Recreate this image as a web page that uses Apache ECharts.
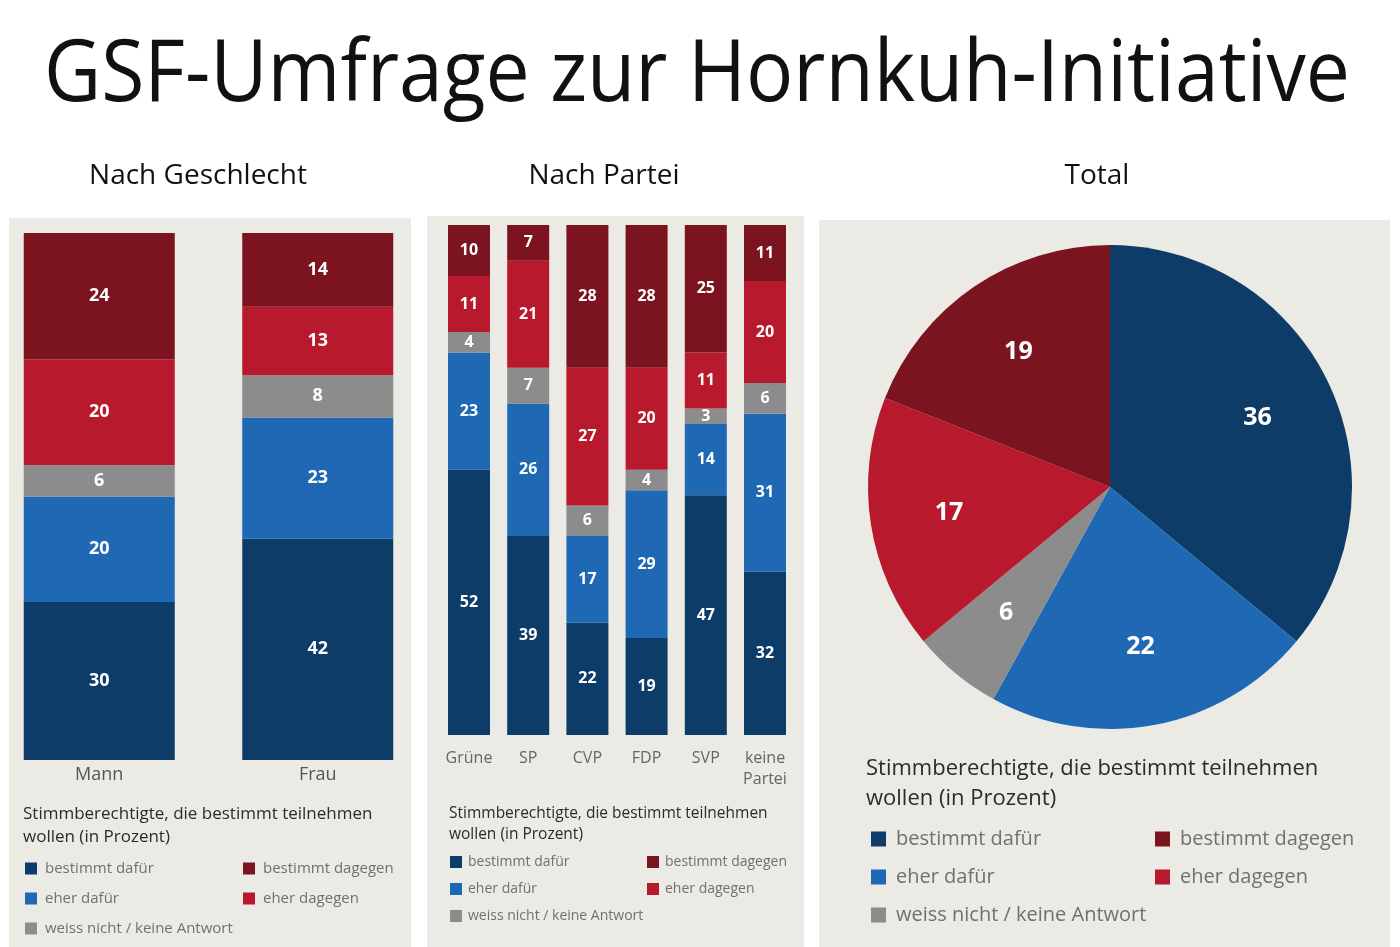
<!DOCTYPE html>
<html>
<head>
<meta charset="utf-8">
<script src="https://cdn.jsdelivr.net/npm/echarts@6/dist/echarts.min.js"></script>
<style>
html, body { margin: 0; padding: 0; background: #fff; }
#chart { width: 1400px; height: 947px; }
</style>
</head>
<body>
<div id="chart"></div>
<script>
// Kategorien
var genderCategories = ['Mann', 'Frau'];
var partyCategories = ['Grüne', 'SP', 'CVP', 'FDP', 'SVP', 'keine\nPartei'];
var answerNames = ['bestimmt dafür', 'eher dafür', 'weiss nicht / keine Antwort', 'eher dagegen', 'bestimmt dagegen'];

// Nach Geschlecht
var genderBestimmtDafuer = [30, 42];
var genderEherDafuer = [20, 23];
var genderWeissNicht = [6, 8];
var genderEherDagegen = [20, 13];
var genderBestimmtDagegen = [24, 14];

// Nach Partei
var partyBestimmtDafuer = [52, 39, 22, 19, 47, 32];
var partyEherDafuer = [23, 26, 17, 29, 14, 31];
var partyWeissNicht = [4, 7, 6, 4, 3, 6];
var partyEherDagegen = [11, 21, 27, 20, 11, 20];
var partyBestimmtDagegen = [10, 7, 28, 28, 25, 11];

// Total
var totalValues = [36, 22, 6, 17, 19];

var colors = ['#0d3c68', '#1f69b4', '#8c8c8c', '#b8192c', '#7b141f'];
var panelBg = '#ebeae5';
var fontMain = '"Open Sans", "Noto Sans", sans-serif';

var genderData = [genderBestimmtDafuer, genderEherDafuer, genderWeissNicht, genderEherDagegen, genderBestimmtDagegen];
var partyData = [partyBestimmtDafuer, partyEherDafuer, partyWeissNicht, partyEherDagegen, partyBestimmtDagegen];

var series = [];
answerNames.forEach(function (name, i) {
    series.push({
        name: name,
        type: 'bar',
        stack: 'gender',
        xAxisIndex: 0,
        yAxisIndex: 0,
        barWidth: 151,
        itemStyle: { color: colors[i] },
        label: { show: true, color: '#fff', fontWeight: 'bold', fontSize: 18, fontFamily: fontMain },
        data: genderData[i]
    });
});
answerNames.forEach(function (name, i) {
    series.push({
        name: name,
        type: 'bar',
        stack: 'party',
        xAxisIndex: 1,
        yAxisIndex: 1,
        barWidth: 42,
        itemStyle: { color: colors[i] },
        label: { show: true, color: '#fff', fontWeight: 'bold', fontSize: 16, fontFamily: fontMain },
        data: partyData[i]
    });
});

var pieData = answerNames.map(function (name, i) {
    return { name: name, value: totalValues[i], itemStyle: { color: colors[i] } };
});
series.push({
    type: 'pie',
    center: [1110, 487],
    radius: [0, 242],
    startAngle: 90,
    label: { show: false },
    labelLine: { show: false },
    data: pieData
});
// nur Beschriftung, etwas weiter aussen
series.push({
    type: 'pie',
    center: [1110, 487],
    radius: [80, 240],
    startAngle: 90,
    silent: true,
    itemStyle: { color: 'rgba(0,0,0,0)' },
    label: {
        show: true, position: 'inside', color: '#fff', fontWeight: 'bold', fontSize: 25, fontFamily: fontMain,
        formatter: '{c}'
    },
    labelLine: { show: false },
    data: answerNames.map(function (name, i) { return { name: name, value: totalValues[i] }; })
});

function legendPair(x1, x2, y, gap, fontSize, iconSize, textGap) {
    var base = {
        orient: 'vertical',
        top: y,
        height: 120,
        padding: 0,
        icon: 'rect',
        itemWidth: iconSize,
        itemHeight: iconSize,
        itemGap: gap,
        selectedMode: false,
        textStyle: {
            color: '#707070', fontSize: fontSize, fontFamily: fontMain, lineHeight: iconSize + 2,
            padding: [0, 0, 0, textGap]
        }
    };
    return [
        Object.assign({}, base, { left: x1, data: ['bestimmt dafür', 'eher dafür', 'weiss nicht / keine Antwort'] }),
        Object.assign({}, base, { left: x2, data: ['bestimmt dagegen', 'eher dagegen'] })
    ];
}

var legends = []
    .concat(legendPair(25, 243, 861, 15, 15, 12, 3))
    .concat(legendPair(450, 647, 855, 13, 14, 12, 1))
    .concat(legendPair(871, 1155, 829, 18, 20, 15, 5));

function note(x, y, size, lh) {
    return {
        type: 'text',
        left: x,
        top: y,
        style: {
            text: 'Stimmberechtigte, die bestimmt teilnehmen\nwollen (in Prozent)',
            fill: '#2b2b2b',
            font: size + 'px ' + fontMain,
            lineHeight: lh
        }
    };
}

function heading(text, x, y, size, sx) {
    return {
        type: 'text',
        x: x,
        y: y,
        scaleX: sx || 1,
        style: { text: text, fill: '#111', font: size + 'px ' + fontMain, textAlign: 'center', textVerticalAlign: 'middle' }
    };
}

var chart = echarts.init(document.getElementById('chart'));
chart.setOption({
    backgroundColor: '#fff',
    animation: false,
    graphic: [
        { type: 'rect', z: -10, shape: { x: 9, y: 218, width: 402, height: 729 }, style: { fill: panelBg } },
        { type: 'rect', z: -10, shape: { x: 427, y: 216, width: 377, height: 731 }, style: { fill: panelBg } },
        { type: 'rect', z: -10, shape: { x: 819, y: 220, width: 571, height: 727 }, style: { fill: panelBg } },
        heading('GSF-Umfrage zur Hornkuh-Initiative', 697, 76, 86, 0.915),
        heading('Nach Geschlecht', 198, 176, 28),
        heading('Nach Partei', 604, 176, 28),
        heading('Total', 1097, 176, 28),
        note(23, 803, 17, 23),
        note(449, 803, 15.5, 21),
        note(866, 754, 22, 30)
    ],
    legend: legends,
    grid: [
        { left: -10, width: 437, top: 233, height: 527, outerBoundsMode: 'none' },
        { left: 439.4, width: 355.2, top: 225, height: 510, outerBoundsMode: 'none' }
    ],
    xAxis: [
        {
            type: 'category', gridIndex: 0, data: genderCategories,
            axisLine: { show: false }, axisTick: { show: false },
            axisLabel: { color: '#555', fontSize: 18, fontFamily: fontMain, margin: 6, interval: 0 }
        },
        {
            type: 'category', gridIndex: 1, data: partyCategories,
            axisLine: { show: false }, axisTick: { show: false },
            axisLabel: { color: '#666', fontSize: 16, fontFamily: fontMain, margin: 13, lineHeight: 21, interval: 0 }
        }
    ],
    yAxis: [
        { type: 'value', gridIndex: 0, min: 0, max: 100, show: false },
        { type: 'value', gridIndex: 1, min: 0, max: 100, show: false }
    ],
    series: series
});
</script>
</body>
</html>
